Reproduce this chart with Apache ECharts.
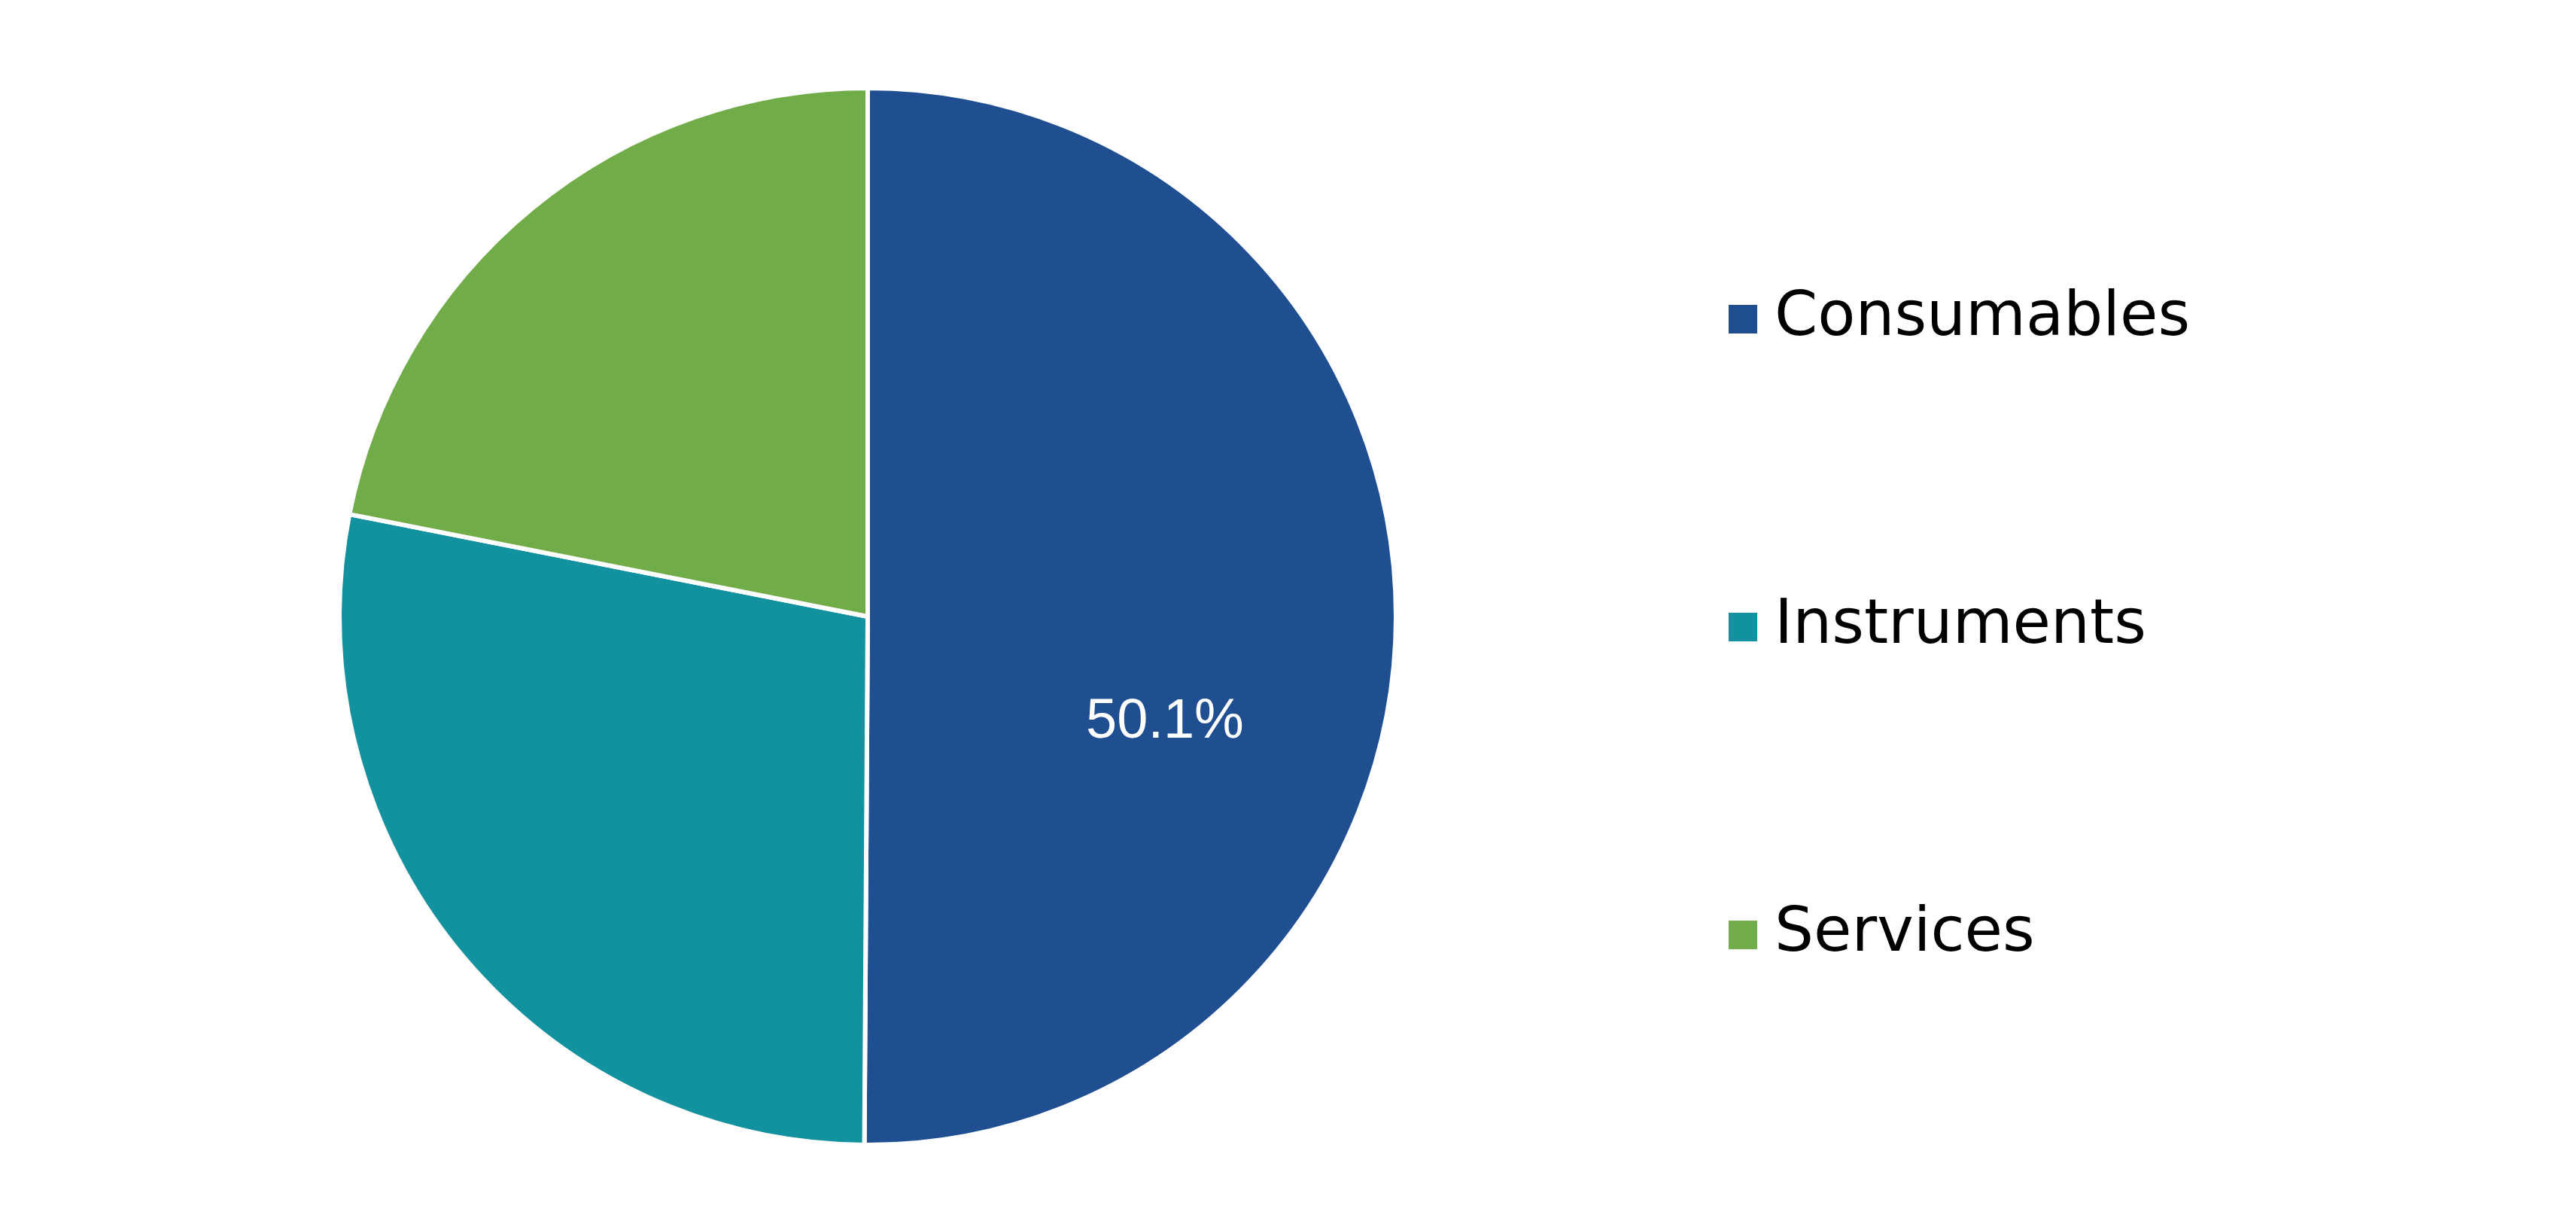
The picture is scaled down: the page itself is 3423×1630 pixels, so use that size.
<!DOCTYPE html>
<html>
<head>
<meta charset="utf-8">
<style>
html,body{margin:0;padding:0;background:#fff;}
#chart{width:3423px;height:1630px;}
</style>
<script src="https://cdn.jsdelivr.net/npm/echarts@6/dist/echarts.min.js"></script>
</head>
<body>
<div id="chart"></div>
<script>
const categories = ['Consumables', 'Instruments', 'Services'];
const values = [50.1, 28.0, 21.9];
const colors = ['#1F4E91', '#12919E', '#70AC48'];
const shownLabels = ['Consumables'];

const chart = echarts.init(document.getElementById('chart'), null, {renderer: 'canvas'});
const data = categories.map((c, i) => ({
  name: c,
  value: values[i],
  itemStyle: {color: colors[i]},
  label: {show: shownLabels.indexOf(c) >= 0}
}));

chart.setOption({
  animation: false,
  backgroundColor: '#ffffff',
  legend: {
    orient: 'vertical',
    left: 2295,
    top: 383,
    padding: 0,
    itemWidth: 40,
    itemHeight: 40,
    itemGap: 327,
    icon: 'rect',
    selectedMode: false,
    textStyle: {
      fontFamily: 'DejaVu Sans',
      fontSize: 82,
      lineHeight: 82,
      color: '#000000',
      padding: [0, 0, 0, 17]
    },
    data: categories
  },
  series: [{
    type: 'pie',
    center: [1153, 819],
    radius: 702,
    startAngle: 90,
    clockwise: true,
    avoidLabelOverlap: false,
    silent: true,
    itemStyle: {borderColor: '#ffffff', borderWidth: 6},
    label: {
      position: 'inside',
      formatter: p => p.value.toFixed(1) + '%',
      color: '#ffffff',
      fontFamily: 'Liberation Sans',
      fontSize: 74,
      offset: [41, 139]
    },
    labelLine: {show: false},
    emphasis: {disabled: true},
    data: data
  }]
});
</script>
</body>
</html>
